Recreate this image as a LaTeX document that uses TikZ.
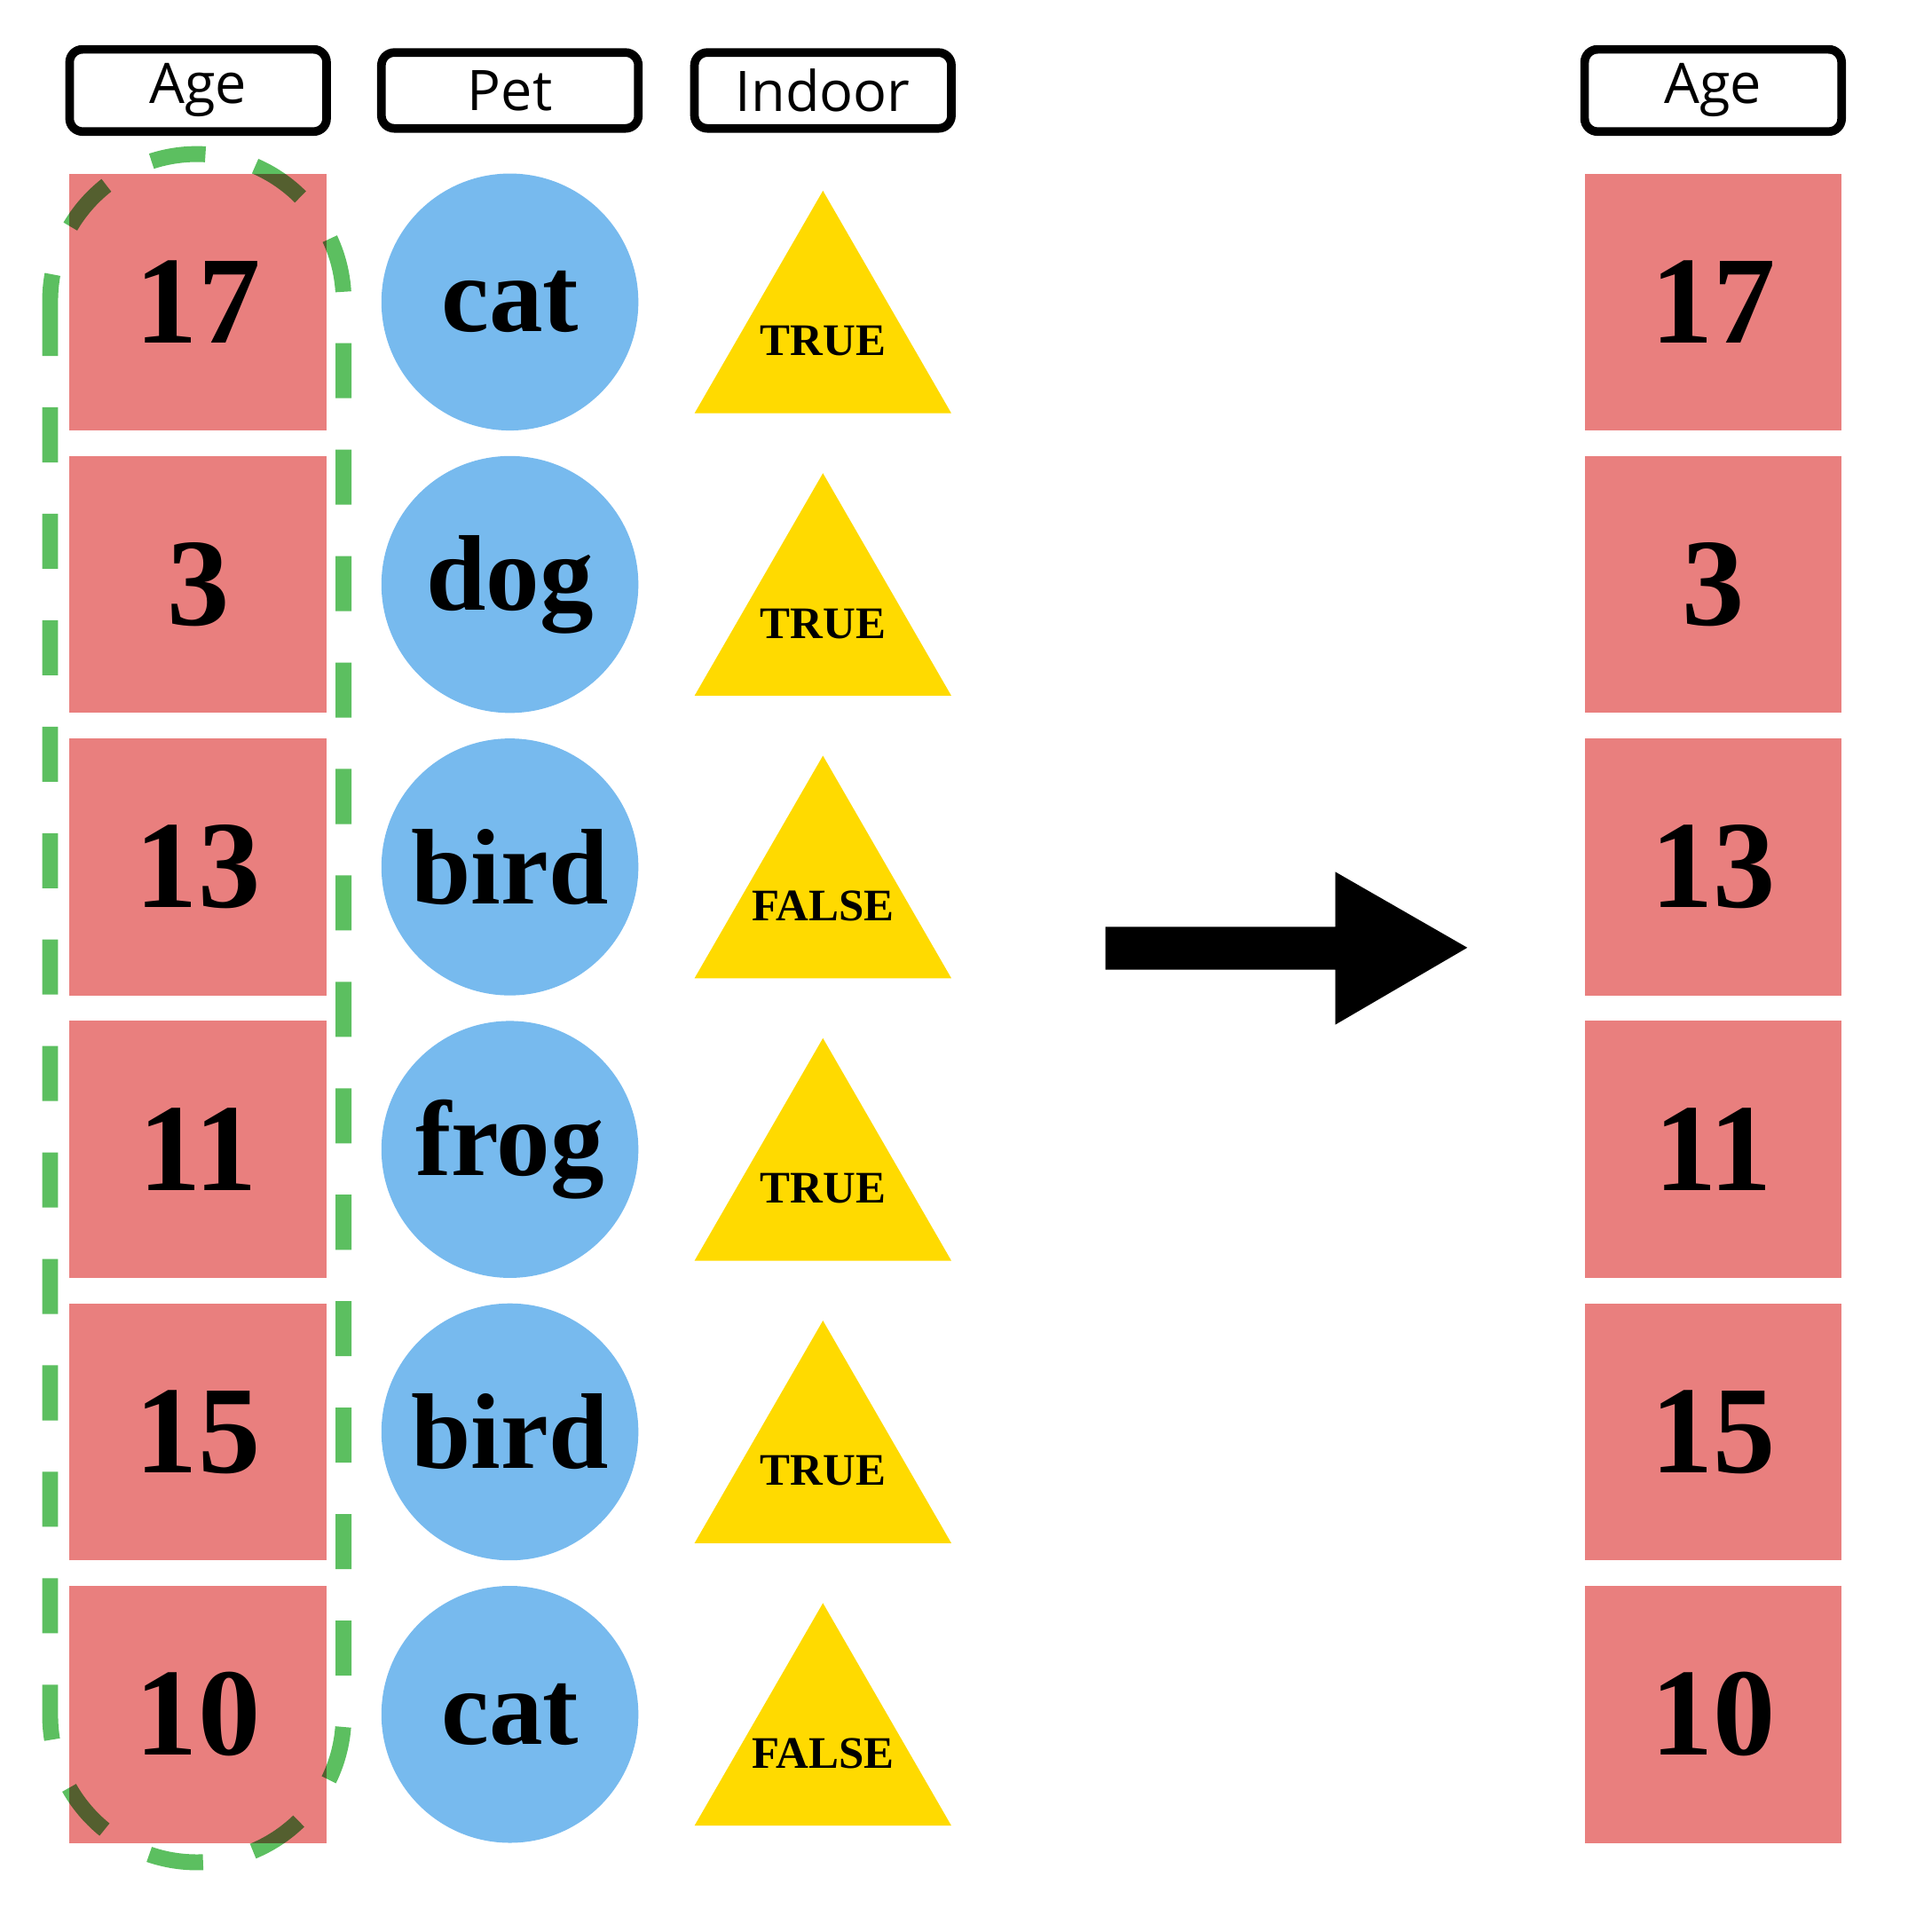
\documentclass[tikz,border=0pt]{standalone}
\usepackage{fontspec}
\setmainfont{Liberation Serif}
\newfontfamily\headfont{Open Sans}
\usetikzlibrary{positioning}

\definecolor{agered}{HTML}{E97F7E}
\definecolor{petblue}{HTML}{77BAEE}
\definecolor{boolyellow}{HTML}{FFDA00}
\definecolor{selgreen}{HTML}{5CBF60}

\tikzset{
  header/.style={draw, line width=2pt, rounded corners=3pt, minimum width=2.1cm, minimum height=0.62cm, font=\headfont\fontsize{13}{13}\selectfont},
  agebox/.style={fill=agered, minimum size=2.1cm, inner sep=0pt, font=\bfseries\fontsize{29}{29}\selectfont},
  petdot/.style={circle, fill=petblue, minimum size=2.1cm, inner sep=0pt, font=\bfseries\fontsize{25}{25}\selectfont},
  boollabel/.style={font=\bfseries\fontsize{10.5}{10.5}\selectfont}
}

\begin{document}
\begin{tikzpicture}[x=0.01cm, y=-0.01cm]
    \useasboundingbox (0,0) rectangle (1560,1580);

    % Column headers
    \node[header] (hage) at (162,74) {Age};
    \node[header] (hpet) at (417,74) {Pet};
    \node[header] (hindoor) at (673,74) {Indoor};
    \node[header] (hout) at (1401,74) {Age};

    % Rows
    \foreach \age/\pet/\flag [count=\i from 0] in {17/cat/TRUE, 3/dog/TRUE, 13/bird/FALSE, 11/frog/TRUE, 15/bird/TRUE, 10/cat/FALSE} {
        \pgfmathsetmacro{\yy}{247+231*\i}
        \node[agebox] (age\i) at (162,\yy) {\age};
        \node[petdot] (pet\i) at (417,\yy) {\pet};
        \fill[boolyellow] (568,\yy+91) -- (673,\yy-91) -- (778,\yy+91) -- cycle;
        \node[boollabel] (flag\i) at (673,\yy+32) {\flag};
        \node[agebox] (out\i) at (1401,\yy) {\age};
    }

    % Selection outline
    \begin{scope}[blend mode=multiply]
        \draw[selgreen, line width=0.13cm, dash pattern=on 0.45cm off 0.42cm, rounded corners=1.2cm] (41,126) rectangle (281,1523);
    \end{scope}

    % Big arrow
    \fill (904,758) -- (1092,758) -- (1092,713) -- (1200,775) -- (1092,838) -- (1092,793) -- (904,793) -- cycle;
\end{tikzpicture}
\end{document}
